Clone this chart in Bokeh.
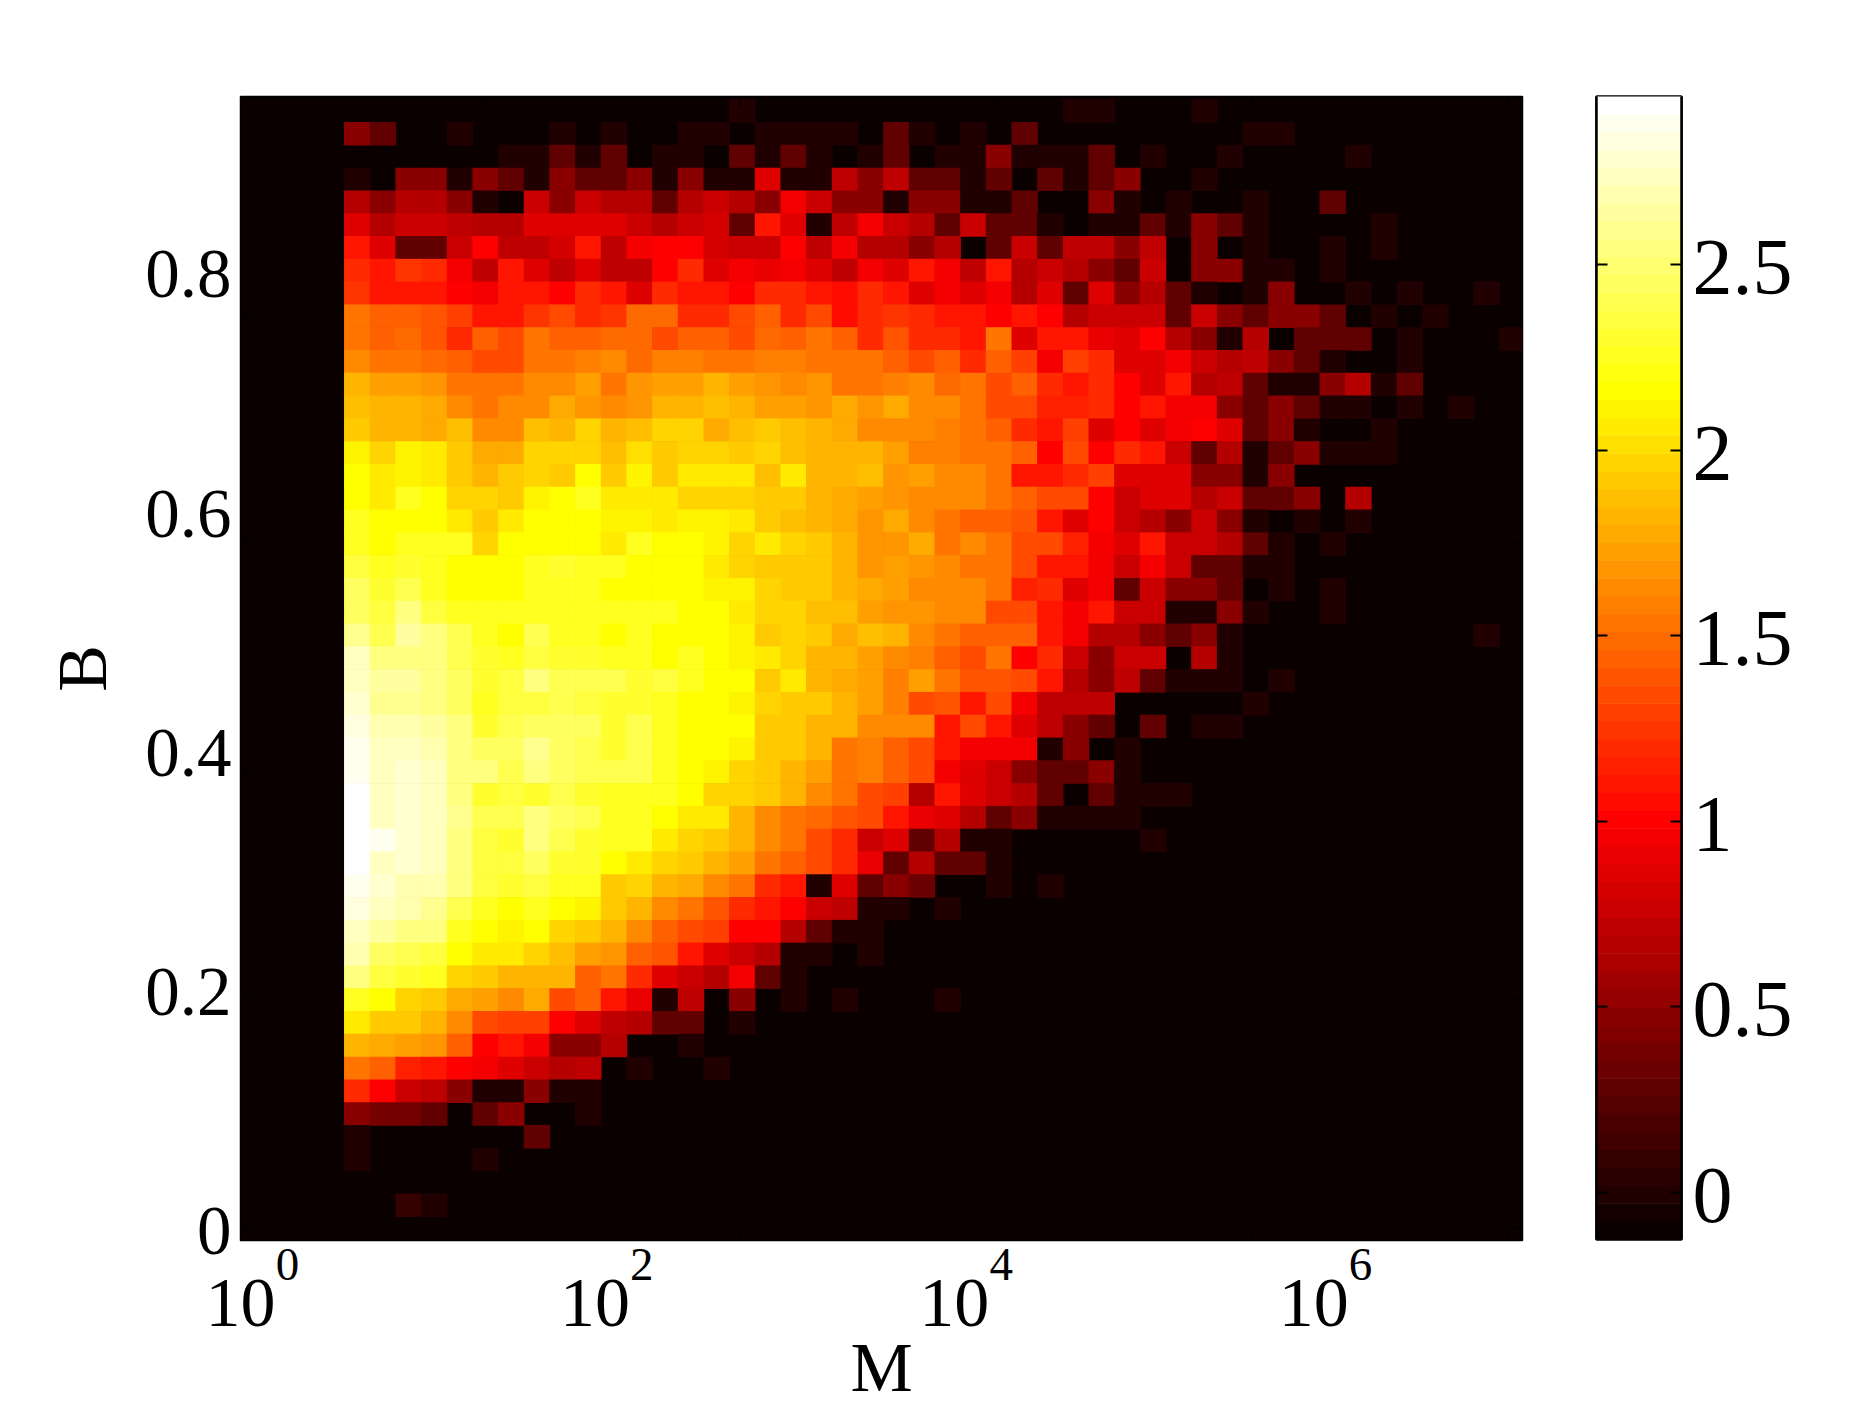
from bokeh.plotting import figure
from bokeh.layouts import row
from bokeh.models import (FixedTicker, LinearAxis, LogAxis, LinearColorMapper,
                          ColumnDataSource, CustomJSTickFormatter, Range1d)
from bokeh.transform import transform
from bokeh.embed import file_html
from bokeh.resources import INLINE

N = -0.1
r00 = [N]*15+[0]+[N]*12+[0,0]+[N]*3+[0]
r01 = [.48,.3,N,N,0,N,N,N,0,N,0,N,N,0,0,N,0,0,0,0,N,.3,0,N,0,N,.3,N,N,N,N,N,N,N,N,0,0]
r02 = [N,N,N,N,N,N,0,0,.3,0,.3,N,0,0,N,.3,0,.3,0,N,0,.3,N,0,0,.48,0,0,0,.3,N,0,N,N,0,N,N,N,N,0]
r03 = [0,N,.48,.48,0,.48,.3,0,.48,.3,.3,.48,0,.48,0,0,.86,0,0,.7,.48,.7,.3,.3,0,.3,N,.3,0,.3,.48,N,N,0]
r04 = [.65,.48,.65,.65,.48,0,N,.75,.48,.75,.65,.65,.3,.65,.75,.65,.48,.95,.75,.48,.48,0,.48,.48,0,0,.3,N,N,.48,0,N,0,N,N,0,N,N,.3]
r05 = [.86,.65,.78,.75,.7,.65,.65,.86,.86,.86,.86,.75,.65,.75,.82,.3,1.12,.86,0,.7,.97,.75,.65,.3,.75,.3,.3,0,N,0,0,.3,0,.48,.3,0,N,N,N,N,0]
r06 = [1.12,.86,.3,.3,.75,1,.7,.7,.8,1.12,.72,.95,1,1,.8,.75,.75,1,.7,.95,.65,.65,.48,.65,N,.3,.75,.3,.72,.72,.48,.72,N,.48,N,0,N,N,0,N,0]
r07 = [1.22,1.12,1.26,1.22,.95,.7,1.08,.86,.7,.86,.7,.7,1,1.22,.86,.95,.93,.95,.86,.7,.95,.86,1.12,.95,.7,1.12,.65,.75,.68,.48,.3,.75,N,.48,.48,0,0,N,0]
r08 = [1.26,1.12,1.12,1.12,1,.95,1.12,1.12,1,1.22,1.12,.86,1.22,1.12,1.12,1,1.22,1.22,1.12,1.03,1.2,1.12,.86,.95,.86,.95,.68,.86,.3,.86,.48,.68,.3,0,N,0,.48,N,N,0,N,0,N,N,0]
r09 = [1.51,1.44,1.44,1.4,1.28,1.12,1.12,1.26,1.33,1.22,1.26,1.47,1.47,1.22,1.22,1.33,1.44,1.22,1.36,1.03,1.22,1.26,1.22,1.12,1.12,1,1.12,1,.65,.75,.75,.75,.3,.75,.48,.3,.48,.48,.3,N,0,N,0]
r10 = [1.54,1.44,1.47,1.4,1.22,1.44,1.33,1.51,1.44,1.44,1.47,1.47,1.33,1.44,1.44,1.36,1.47,1.44,1.51,1.44,1.22,1.4,1.22,1.22,1.12,1.51,.86,1.12,1.12,.9,.86,.98,.65,.48,0,.65,N,.3,.3,.3,N,0,N,N,N,0]
r11 = [1.62,1.51,1.51,1.48,1.44,1.33,1.33,1.51,1.51,1.58,1.62,1.47,1.58,1.58,1.51,1.51,1.58,1.58,1.51,1.51,1.51,1.42,1.33,1.44,1.2,1.44,1.3,.95,1.3,1.2,.86,.86,.95,.75,.65,.7,.48,.3,0,N,N,0]
r12 = [1.8,1.73,1.73,1.66,1.51,1.51,1.51,1.62,1.62,1.73,1.51,1.7,1.73,1.73,1.83,1.73,1.7,1.62,1.7,1.51,1.55,1.58,1.64,1.47,1.51,1.33,1.44,1.2,1.12,1.2,.98,.86,1.08,.65,.7,.3,0,0,.48,.65,0,.3]
r13 = [1.88,1.8,1.8,1.76,1.62,1.55,1.62,1.62,1.78,1.7,1.62,1.7,1.8,1.83,1.88,1.83,1.73,1.73,1.7,1.78,1.7,1.76,1.62,1.62,1.51,1.36,1.33,1.15,1.15,1.22,1,1.12,.95,.95,.48,.3,.48,.3,0,0,N,0,N,0]
r14 = [1.91,1.83,1.8,1.76,1.88,1.62,1.65,1.88,1.83,1.98,1.83,1.88,1.95,1.95,1.78,1.88,1.91,1.88,1.8,1.78,1.62,1.65,1.62,1.58,1.51,1.44,1.22,1.12,1.3,.86,.98,.86,.95,1,.86,.3,.48,0,N,N,0]
r15 = [2.12,1.95,2.12,2.05,1.91,1.76,1.78,1.98,1.98,1.98,1.88,2.02,1.91,1.98,1.98,1.91,1.95,1.88,1.8,1.8,1.8,1.73,1.58,1.58,1.51,1.51,1.42,1,1.33,1,1.2,1.12,.75,.3,.65,0,.3,.48,0,0,0]
r16 = [2.16,2.05,2.09,2.05,1.91,1.83,1.91,1.98,1.91,2.16,1.91,2.09,1.93,2.05,2.05,2.05,1.88,2.05,1.8,1.8,1.88,1.7,1.73,1.62,1.62,1.51,1.12,1.12,1.22,1.3,.86,.86,.86,.48,.48,0,.48]
r17 = [2.14,2.05,2.24,2.16,1.98,1.98,1.93,2.09,2.16,2.24,2.05,2.05,2.05,1.98,1.98,1.98,1.91,1.93,1.8,1.78,1.73,1.7,1.65,1.65,1.62,1.51,1.44,1.33,1.33,.98,.75,.86,.86,.65,.75,.3,.3,.48,N,.65]
r18 = [2.26,2.18,2.18,2.16,2.05,1.91,2.05,2.16,2.18,2.18,2.09,2.09,2.05,2.09,2.09,2.05,1.93,1.88,1.8,1.78,1.7,1.76,1.62,1.55,1.44,1.44,1.4,1.12,.86,1,.78,.65,.48,.75,.48,0,N,0,N,0]
r19 = [2.26,2.18,2.26,2.24,2.24,1.98,2.16,2.16,2.16,2.16,2.05,2.24,2.18,2.16,2.09,1.98,2.05,1.98,1.91,1.8,1.7,1.68,1.78,1.55,1.62,1.51,1.36,1.36,1.15,.95,.86,1.12,.75,.75,.65,.3,0,N,0]
r20 = [2.37,2.26,2.32,2.26,2.16,2.16,2.16,2.26,2.32,2.24,2.24,2.18,2.18,2.18,2.05,1.98,1.93,1.93,1.91,1.8,1.7,1.72,1.7,1.62,1.55,1.51,1.33,1.12,1.12,.95,.78,.95,.75,.3,.3,0,0]
r21 = [2.43,2.32,2.4,2.26,2.18,2.16,2.16,2.26,2.26,2.26,2.18,2.18,2.18,2.16,2.09,2.09,1.98,1.93,1.93,1.8,1.78,1.73,1.65,1.62,1.62,1.51,1.15,1.22,.86,.95,.3,.78,.48,.48,.3,N,0,N,0]
r22 = [2.43,2.37,2.52,2.37,2.26,2.24,2.24,2.26,2.26,2.26,2.26,2.24,2.24,2.18,2.16,2.05,1.98,1.96,1.88,1.88,1.73,1.68,1.7,1.62,1.62,1.36,1.36,1.12,.95,1.12,.75,.75,0,0,.48,0,N,N,0]
r23 = [2.58,2.4,2.66,2.52,2.4,2.26,2.18,2.4,2.26,2.26,2.18,2.26,2.16,2.16,2.16,2.09,1.91,1.98,1.93,1.76,1.88,1.8,1.62,1.55,1.44,1.44,1.44,1.12,.95,.65,.65,.48,.3,.48,0]+[N]*9+[0]
r24 = [2.72,2.55,2.55,2.52,2.4,2.32,2.26,2.37,2.32,2.32,2.26,2.24,2.16,2.24,2.16,2.09,2.05,1.98,1.8,1.8,1.73,1.62,1.58,1.44,1.33,1.51,1,1.22,.78,.48,.75,.75,N,.65,0]
r25 = [2.72,2.66,2.66,2.55,2.43,2.32,2.37,2.52,2.4,2.4,2.4,2.32,2.37,2.26,2.16,2.16,1.93,2.05,1.8,1.78,1.73,1.58,1.73,1.51,1.4,1.4,1.33,1.12,.65,.48,.72,.3,0,0,0,N,0]
r26 = [2.79,2.58,2.58,2.55,2.43,2.26,2.37,2.37,2.4,2.37,2.32,2.32,2.26,2.18,2.16,2.09,1.98,1.91,1.91,1.8,1.73,1.56,1.33,1.4,1.12,1.36,.95,.72,.72,.72,N,N,N,N,N,0]
r27 = [2.82,2.69,2.69,2.66,2.55,2.32,2.4,2.43,2.43,2.43,2.32,2.4,2.26,2.18,2.18,2.18,1.93,1.93,1.83,1.8,1.62,1.62,1.65,1.12,1.33,1.08,.86,.72,.48,.3,N,.3,N,0,0]
r28 = [2.88,2.72,2.72,2.69,2.55,2.43,2.43,2.58,2.43,2.4,2.32,2.4,2.26,2.16,2.16,2.09,1.93,1.91,1.8,1.51,1.58,1.44,1.36,1.08,.95,.95,.95,0,.48,N,0]
r29 = [2.88,2.72,2.79,2.72,2.55,2.52,2.4,2.55,2.43,2.4,2.4,2.4,2.26,2.16,2.09,1.98,1.91,1.8,1.73,1.51,1.58,1.44,1.33,.95,.86,.75,.48,.3,.3,.48,0]
r30 = [2.95,2.72,2.79,2.72,2.55,2.32,2.37,2.32,2.4,2.32,2.26,2.26,2.26,2.16,1.98,1.98,1.91,1.8,1.62,1.51,1.33,1.3,.65,1.08,.86,.75,.65,.3,N,.3,0,0,0]
r31 = [2.95,2.72,2.79,2.72,2.58,2.4,2.4,2.52,2.43,2.4,2.26,2.26,2.18,2.05,2.05,1.8,1.62,1.51,1.48,1.4,1.33,1.12,.9,.86,.65,.3,.48,0,0,0,0]
r32 = [2.95,2.88,2.79,2.72,2.55,2.37,2.32,2.52,2.4,2.32,2.24,2.26,2.05,1.98,1.91,1.8,1.62,1.51,1.33,1.22,.75,.86,.3,.65,0,0,N,N,N,N,N,0]
r33 = [2.95,2.72,2.79,2.72,2.55,2.35,2.35,2.45,2.3,2.3,2.16,2.05,1.98,1.91,1.8,1.73,1.51,1.44,1.33,1.2,.9,.3,.65,.3,.3,0]
r34 = [2.88,2.79,2.69,2.69,2.52,2.37,2.3,2.37,2.26,2.24,1.93,1.96,1.83,1.76,1.62,1.51,1.2,1.12,0,.86,.3,.48,.33,N,N,0,N,0]
r35 = [2.82,2.72,2.69,2.58,2.4,2.24,2.18,2.24,2.16,2.09,1.91,1.83,1.62,1.51,1.4,1.22,1.12,.98,.75,.72,0,0,N,0]
r36 = [2.76,2.66,2.52,2.52,2.26,2.16,2.09,2.16,1.98,1.91,1.8,1.65,1.44,1.33,1.3,1,1,.65,.3,0,0]
r37 = [2.69,2.43,2.4,2.37,2.16,2.05,2.05,1.98,1.88,1.73,1.7,1.44,1.4,1.12,.86,.75,.65,0,0,N,0]
r38 = [2.52,2.37,2.32,2.26,1.98,1.91,1.8,1.8,1.8,1.44,1.51,1.22,.86,.75,.65,.95,.3,0]
r39 = [2.26,2.16,1.98,1.91,1.76,1.73,1.62,1.76,1.33,1.44,1.08,.9,0,.72,N,.48,N,0,N,0,N,N,N,0]
r40 = [2.05,1.93,1.91,1.83,1.62,1.33,1.3,1.3,1,.86,.72,.65,.3,.3,N,0]
r41 = [1.83,1.76,1.73,1.7,1.44,1,1.12,.95,.48,.48,.68,N,N,0]
r42 = [1.55,1.44,1.15,1.12,1,.95,.86,.75,.65,.72,N,0,N,N,0]
r43 = [1.2,1,.75,.72,.48,0,0,.48,0,0]
r44 = [.48,.36,.36,.3,N,.3,.48,N,N,0]
r45 = [0,N,N,N,N,N,N,.3]
r46 = [0,N,N,N,N,0]
r47 = []
r48 = [N,N,.1,0]
r49 = []
rows_top_down = [r00,r01,r02,r03,r04,r05,r06,r07,r08,r09,r10,r11,r12,r13,r14,r15,r16,r17,r18,r19,
                 r20,r21,r22,r23,r24,r25,r26,r27,r28,r29,r30,r31,r32,r33,r34,r35,r36,r37,r38,r39,
                 r40,r41,r42,r43,r44,r45,r46,r47,r48,r49]

y_ticks = [0, 0.2, 0.4, 0.6, 0.8]
x_tick_powers = [0, 2, 4, 6]
cbar_ticks = [0, 0.5, 1, 1.5, 2, 2.5]
# faint inner tick marks (they do not line up with the printed labels in the reference)
x_inner_ticks = [10**1.389, 10**2.813, 10**4.24, 10**5.662, 10**7.084]
y_inner_ticks = [0.0044, 0.1956, 0.387, 0.578, 0.7686]

CLIM = (-0.1266, 2.9526)
FONT = "Liberation Serif"
X_START = 0.0278

def hot(n):
    m = int(3 * n / 8)
    out = []
    for i in range(1, n + 1):
        r = min(i / m, 1)
        g = min(max(i - m, 0) / m, 1)
        b = min(max(i - 2 * m, 0) / (n - 2 * m), 1)
        out.append("#%02x%02x%02x" % (round(r * 255), round(g * 255), round(b * 255)))
    return out

palette = hot(64)
mapper = LinearColorMapper(palette=palette, low=CLIM[0], high=CLIM[1])

M0, MSTEP = 0.604, 1 / 7
B0, BSTEP = 0.9484, 0.01906
OVER = 0.03   # each cell runs slightly under its right/lower neighbour, so no seams show
L, R, T, Bt, V = [], [], [], [], []
for ri, vals in enumerate(rows_top_down):
    for ci, v in enumerate(vals):
        if v == N:
            continue
        L.append(10 ** (M0 + ci * MSTEP))
        R.append(10 ** (M0 + (ci + 1 + OVER) * MSTEP))
        T.append(B0 - ri * BSTEP)
        Bt.append(B0 - (ri + 1 + OVER) * BSTEP)
        V.append(v)
src = ColumnDataSource(dict(left=L, right=R, top=T, bottom=Bt, v=V))

p = figure(width=1590, height=1405, frame_width=1282, frame_height=1144,
           x_axis_type="log", x_range=Range1d(10 ** X_START, 10 ** 7.162), y_range=Range1d(-0.00585, 0.9507),
           output_backend="svg", toolbar_location=None,
           min_border_left=240, min_border_right=68, min_border_top=94, min_border_bottom=167,
           background_fill_color=palette[0], border_fill_color="white",
           outline_line_color="black", outline_line_width=1.5)
p.grid.visible = False
p.quad(left="left", right="right", top="top", bottom="bottom", source=src,
       fill_color=transform("v", mapper), line_color=None)

label_fmt = CustomJSTickFormatter(code="return String(Math.abs(+tick.toFixed(1)));")
power_fmt = CustomJSTickFormatter(code="return String(Math.floor(Math.log10(tick)));")
ten_fmt = CustomJSTickFormatter(code="return '10';")

def style_inner(ax):
    ax.major_tick_in = 0
    ax.major_tick_out = 0
    ax.minor_tick_in = 12
    ax.minor_tick_out = 0
    ax.minor_tick_line_color = "black"
    ax.minor_tick_line_width = 1.5
    ax.axis_line_color = "black"

# first axis under the frame: the exponents, set to the right of each printed "10"
xa = p.xaxis[0]
xa.ticker = FixedTicker(ticks=[10 ** (max(k, X_START) + 0.261) for k in x_tick_powers], minor_ticks=x_inner_ticks)
style_inner(xa)
xa.formatter = power_fmt
xa.major_label_text_font = FONT
xa.major_label_text_font_size = "47px"
xa.major_label_text_color = "black"
xa.major_label_standoff = 8

# second axis: the "10" of each tick label, and the axis title
xb = LogAxis(ticker=FixedTicker(ticks=[10 ** max(k, X_START + 1e-4) for k in x_tick_powers]), formatter=ten_fmt)
xb.major_tick_in = 0
xb.major_tick_out = 0
xb.minor_tick_in = 0
xb.minor_tick_out = 0
xb.axis_line_color = None
xb.major_label_text_font = FONT
xb.major_label_text_font_size = "70px"
xb.major_label_text_color = "black"
xb.major_label_standoff = -3
xb.axis_label = "M"
xb.axis_label_text_font = FONT
xb.axis_label_text_font_size = "70px"
xb.axis_label_text_font_style = "normal"
xb.axis_label_text_color = "black"
xb.axis_label_standoff = 0
p.add_layout(xb, "below")

ya = p.yaxis[0]
ya.ticker = FixedTicker(ticks=[t + 0.002 for t in y_ticks], minor_ticks=y_inner_ticks)
style_inner(ya)
ya.formatter = label_fmt
ya.major_label_text_font = FONT
ya.major_label_text_font_size = "69px"
ya.major_label_text_color = "black"
ya.major_label_standoff = 9
ya.axis_label = "B"
ya.axis_label_text_font = FONT
ya.axis_label_text_font_size = "70px"
ya.axis_label_text_font_style = "normal"
ya.axis_label_text_color = "black"
ya.axis_label_standoff = 21

top_ax = LogAxis(ticker=FixedTicker(ticks=[], minor_ticks=x_inner_ticks))
style_inner(top_ax)
p.add_layout(top_ax, "above")
right_ax = LinearAxis(ticker=FixedTicker(ticks=[], minor_ticks=y_inner_ticks))
style_inner(right_ax)
p.add_layout(right_ax, "right")

# colour bar
cb = figure(width=275, height=1405, frame_width=85, frame_height=1143,
            x_range=Range1d(0, 1), y_range=Range1d(*CLIM),
            output_backend="svg", toolbar_location=None,
            min_border_left=6, min_border_right=184, min_border_top=96, min_border_bottom=166,
            border_fill_color="white", outline_line_color="black", outline_line_width=2.5)
cb.grid.visible = False
step = (CLIM[1] - CLIM[0]) / 64
cb.quad(left=0, right=1, bottom=[CLIM[0] + i * step for i in range(64)],
        top=[CLIM[0] + (i + 1.03) * step for i in range(64)],
        fill_color=palette, line_color=None)
cb.xaxis.visible = False
cb.yaxis.visible = False
cr = LinearAxis(ticker=FixedTicker(ticks=[t - 0.008 for t in cbar_ticks], minor_ticks=cbar_ticks), formatter=label_fmt)
cr.major_tick_in = 0
cr.major_tick_out = 0
cr.minor_tick_in = 11
cr.minor_tick_out = 0
cr.minor_tick_line_color = "black"
cr.minor_tick_line_width = 2
cr.axis_line_color = "black"
cr.axis_line_width = 2.5
cr.major_label_text_font = FONT
cr.major_label_text_font_size = "80px"
cr.major_label_text_color = "black"
cr.major_label_standoff = 11
cb.add_layout(cr, "right")
cl = LinearAxis(ticker=FixedTicker(ticks=[], minor_ticks=cbar_ticks))
cl.major_tick_in = 0
cl.major_tick_out = 0
cl.minor_tick_in = 11
cl.minor_tick_out = 0
cl.minor_tick_line_color = "black"
cl.minor_tick_line_width = 2
cl.axis_line_color = "black"
cl.axis_line_width = 2.5
cb.add_layout(cl, "left")

open("out.html", "w").write(file_html(row(p, cb), INLINE))
